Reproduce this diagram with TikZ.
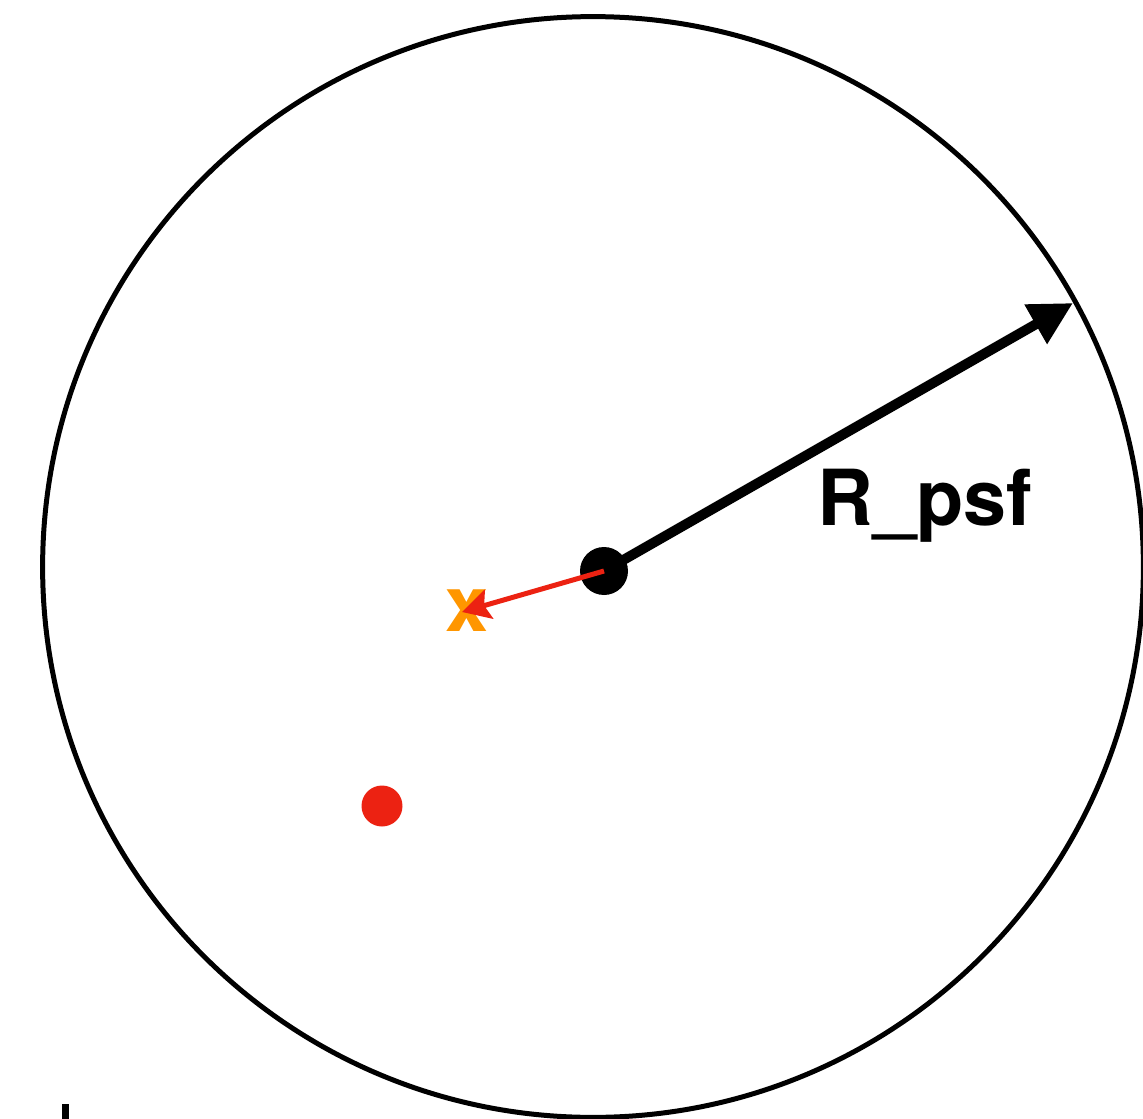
\documentclass[tikz,border=0pt]{standalone}
\usepackage{fontspec}
\setsansfont{TeX Gyre Heros}
\usetikzlibrary{arrows.meta}
\definecolor{dotred}{RGB}{236,34,18}
\definecolor{xorange}{RGB}{255,150,0}
\begin{document}
\begin{tikzpicture}[x=0.02cm, y=-0.02cm, line cap=butt,
    bigfont/.style={font=\sffamily\bfseries\fontsize{44}{48}\selectfont, inner sep=0pt}]
    % 1. frame and clip (circle runs off the right and bottom edges)
    \useasboundingbox (0,0) rectangle (1143,1119);
    \clip (0,0) rectangle (1143,1119);

    % 2. PSF circle
    \draw[line width=0.1cm] (593,567) circle [radius=11.01cm];

    % 3. points
    \node[circle, fill=black, minimum size=0.96cm, inner sep=0pt] (ctr) at (604,571) {};
    \node[circle, fill=dotred, minimum size=0.82cm, inner sep=0pt] (reddot) at (382,806) {};
    \node[bigfont, text=xorange, anchor=base] (xmark) at (467,631) {x};
    \coordinate (rtip) at (1073,303);
    \coordinate (xtip) at (462,612);

    % 4. arrows
    \draw[line width=0.2cm, -{Triangle[length=0.86cm, width=0.86cm]}] (ctr.center) -- (rtip);
    \draw[dotred, line width=0.1cm, -{Stealth[length=0.56cm, width=0.6cm, inset=0.1cm]}] (ctr.center) -- (xtip);

    % 5. label
    \node[bigfont, anchor=base west] (rlabel) at (817,525) {R\_psf};

    % 6. cut-off mark bottom left
    \fill (62,1104) rectangle (69,1119);
\end{tikzpicture}
\end{document}
